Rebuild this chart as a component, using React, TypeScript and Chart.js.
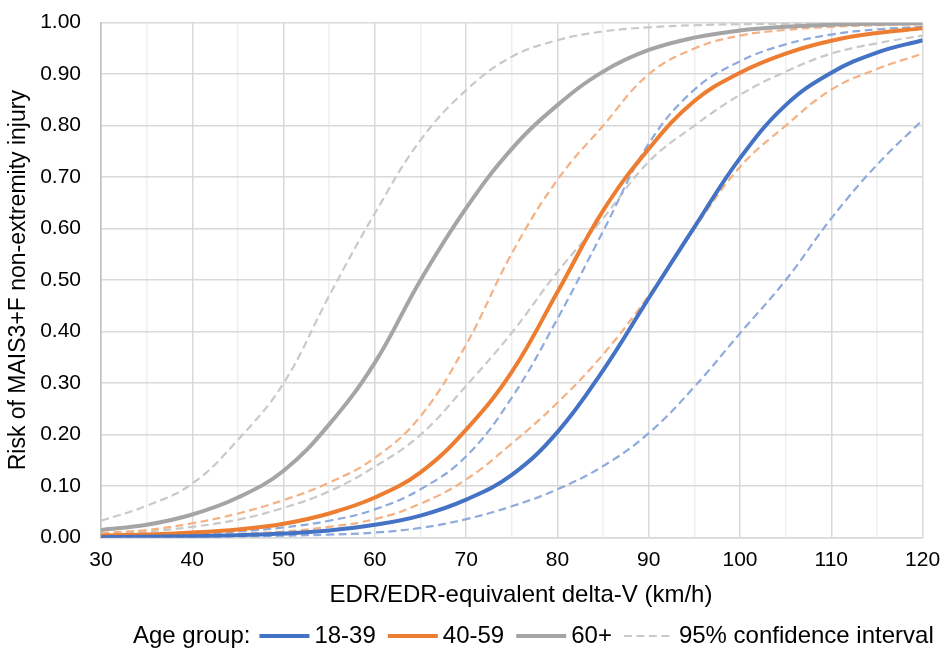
import React, { useEffect, useRef } from 'react';
import { Chart, registerables } from 'chart.js';

Chart.register(...registerables);

// Delta-V (km/h)
const speeds = [30, 35, 40, 45, 50, 55, 60, 65, 70, 75, 80, 85, 90, 95, 100, 105, 110, 115, 120];

// Risk curves per age group
const age18to39 = [0.001, 0.002, 0.003, 0.005, 0.008, 0.014, 0.025, 0.043, 0.074, 0.122, 0.205, 0.325, 0.465, 0.603, 0.737, 0.84, 0.903, 0.942, 0.966];
const age40to59 = [0.004, 0.006, 0.01, 0.016, 0.027, 0.047, 0.078, 0.127, 0.21, 0.322, 0.477, 0.635, 0.755, 0.848, 0.903, 0.94, 0.965, 0.98, 0.989];
const age60plus = [0.015, 0.025, 0.045, 0.078, 0.13, 0.22, 0.34, 0.5, 0.64, 0.755, 0.84, 0.905, 0.947, 0.971, 0.985, 0.992, 0.996, 0.998, 0.999];

// 95% confidence interval bounds
const ci18to39Upper = [0.002, 0.004, 0.007, 0.012, 0.02, 0.033, 0.055, 0.094, 0.158, 0.272, 0.425, 0.595, 0.765, 0.87, 0.925, 0.958, 0.977, 0.987, 0.992];
const ci18to39Lower = [0.0005, 0.001, 0.001, 0.002, 0.004, 0.006, 0.01, 0.019, 0.036, 0.061, 0.094, 0.139, 0.203, 0.293, 0.397, 0.5, 0.62, 0.724, 0.811];
const ci40to59Upper = [0.009, 0.015, 0.028, 0.047, 0.073, 0.107, 0.155, 0.236, 0.375, 0.552, 0.695, 0.8, 0.9, 0.95, 0.975, 0.986, 0.992, 0.995, 0.997];
const ci40to59Lower = [0.001, 0.002, 0.004, 0.007, 0.012, 0.021, 0.036, 0.066, 0.113, 0.183, 0.262, 0.356, 0.47, 0.6, 0.72, 0.8, 0.87, 0.91, 0.94];
const ci60Upper = [0.033, 0.062, 0.105, 0.19, 0.3, 0.47, 0.63, 0.772, 0.869, 0.934, 0.966, 0.983, 0.991, 0.995, 0.997, 0.998, 0.999, 0.999, 1.0];
const ci60Lower = [0.007, 0.012, 0.021, 0.035, 0.058, 0.09, 0.138, 0.2, 0.295, 0.398, 0.516, 0.62, 0.73, 0.8, 0.86, 0.905, 0.94, 0.96, 0.975];

const seriesLabels = ['18-39', '40-59', '60+'];
const ciLabel = '95% confidence interval';
const legendPrefix = 'Age group:';
const xTitle = 'EDR/EDR-equivalent delta-V (km/h)';
const yTitle = 'Risk of MAIS3+F non-extremity injury';

const FONT = '"Liberation Sans", Arial, Helvetica, sans-serif';
const BLUE = '#4472C4';
const ORANGE = '#ED7D31';
const GRAY = '#A5A5A5';
const BLUE_CI = '#8FAADC';
const ORANGE_CI = '#F4B183';
const GRAY_CI = '#C9C9C9';
const DASH = [8, 4.5];

export default function App() {
  const ref = useRef<HTMLCanvasElement>(null);

  useEffect(() => {
    if (!ref.current) return;
    const pts = (arr: number[]) => speeds.map((x, i) => ({ x, y: arr[i] }));
    const solid = (label: string, arr: number[], color: string) => ({
      label,
      data: pts(arr),
      borderColor: color,
      backgroundColor: color,
      borderWidth: 4,
      pointRadius: 0,
      fill: false,
      tension: 0.4,
    });
    const dashed = (label: string, arr: number[], color: string) => ({
      label,
      data: pts(arr),
      borderColor: color,
      backgroundColor: color,
      borderWidth: 2.2,
      borderDash: DASH,
      pointRadius: 0,
      fill: false,
      tension: 0.4,
    });

    const textPlugin = {
      id: 'customLegend',
      afterDraw(chart: any) {
        const ctx = chart.ctx as CanvasRenderingContext2D;
        ctx.save();
        ctx.font = `24px ${FONT}`;
        ctx.fillStyle = '#000';
        ctx.textBaseline = 'middle';
        // x-axis title
        ctx.textAlign = 'center';
        ctx.fillText(xTitle, 521, 595);
        // legend
        ctx.textAlign = 'left';
        const y = 636;
        let x = 133;
        ctx.fillText(legendPrefix, x, y);
        x += ctx.measureText(legendPrefix).width + 9;
        const items = [
          { text: seriesLabels[0], color: BLUE, w: 4, dash: [] as number[] },
          { text: seriesLabels[1], color: ORANGE, w: 4, dash: [] as number[] },
          { text: seriesLabels[2], color: GRAY, w: 4, dash: [] as number[] },
          { text: ciLabel, color: GRAY_CI, w: 2.2, dash: DASH },
        ];
        for (const it of items) {
          ctx.beginPath();
          ctx.strokeStyle = it.color;
          ctx.lineWidth = it.w;
          ctx.setLineDash(it.dash);
          ctx.moveTo(x, y);
          ctx.lineTo(x + 50, y);
          ctx.stroke();
          ctx.setLineDash([]);
          x += 55;
          ctx.fillText(it.text, x, y);
          x += ctx.measureText(it.text).width + 12;
        }
        ctx.restore();
      },
    };

    const chart = new Chart(ref.current, {
      type: 'line',
      data: {
        datasets: [
          solid(seriesLabels[0], age18to39, BLUE),
          solid(seriesLabels[1], age40to59, ORANGE),
          solid(seriesLabels[2], age60plus, GRAY),
          dashed('18-39 upper', ci18to39Upper, BLUE_CI),
          dashed('18-39 lower', ci18to39Lower, BLUE_CI),
          dashed('40-59 upper', ci40to59Upper, ORANGE_CI),
          dashed('40-59 lower', ci40to59Lower, ORANGE_CI),
          dashed('60+ upper', ci60Upper, GRAY_CI),
          dashed('60+ lower', ci60Lower, GRAY_CI),
        ],
      },
      options: {
        animation: false,
        responsive: true,
        maintainAspectRatio: false,
        layout: { padding: { left: 0, right: 20.4, top: 22.7, bottom: 40 } },
        plugins: {
          legend: { display: false },
          tooltip: { enabled: false },
        },
        scales: {
          x: {
            type: 'linear',
            min: 30,
            max: 120,
            afterFit: (s: any) => {
              s.height = 75.3;
              s.paddingLeft = 0;
              s.paddingRight = 0;
            },
            ticks: {
              stepSize: 5,
              autoSkip: false,
              maxRotation: 0,
              padding: 10,
              color: '#000',
              font: { size: 21, family: FONT },
              callback: (v: any) => (Number(v) % 10 === 0 ? String(v) : ''),
            },
            grid: {
              drawTicks: false,
              color: (c: any) => (c.tick && Number(c.tick.value) % 10 === 0 ? '#D9D9D9' : '#EFEFEF'),
              lineWidth: 1.5,
            },
            border: { color: '#D9D9D9', width: 1.5 },
            title: { display: false },
          },
          y: {
            min: 0,
            max: 1,
            afterFit: (s: any) => {
              s.width = 101;
              s.paddingTop = 0;
              s.paddingBottom = 0;
            },
            ticks: {
              stepSize: 0.1,
              padding: 20,
              color: '#000',
              font: { size: 21, family: FONT },
              callback: (v: any) => Number(v).toFixed(2),
            },
            grid: { drawTicks: false, color: '#D9D9D9', lineWidth: 1.5 },
            border: { color: '#BFBFBF', width: 1.5 },
            title: {
              display: true,
              text: yTitle,
              color: '#000',
              font: { size: 23, family: FONT },
              padding: { top: 5, bottom: 0 },
            },
          },
        },
      },
      plugins: [textPlugin],
    });
    return () => chart.destroy();
  }, []);

  return (
    <div style={{ position: 'fixed', left: 0, top: 0, width: 943, height: 653, background: '#fff' }}>
      <canvas ref={ref} />
    </div>
  );
}
